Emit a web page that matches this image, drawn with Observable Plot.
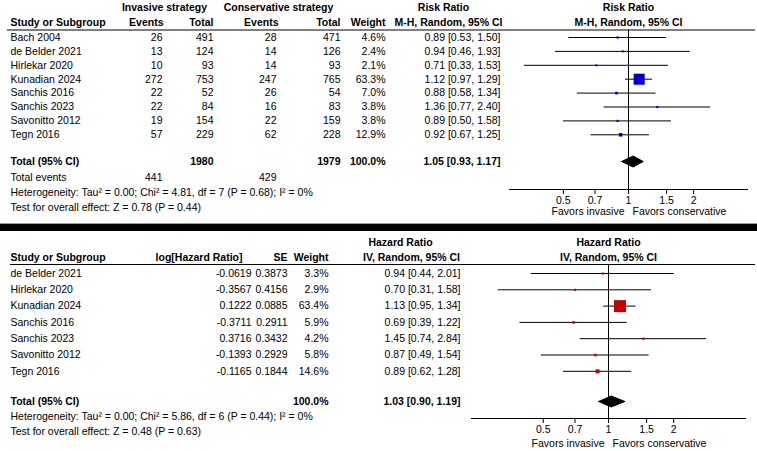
<!DOCTYPE html>
<html>
<head>
<meta charset="utf-8">
<script src="https://cdn.jsdelivr.net/npm/d3@7"></script>
<script src="https://cdn.jsdelivr.net/npm/@observablehq/plot@0.6"></script>
<style>
  html, body { margin: 0; padding: 0; background: #fff; }
  #chart { width: 757px; }
  #chart svg { display: block; overflow: visible; }
  .sep { height: 7px; background: #000; border-top: 1px solid #9a9a9a; }
</style>
</head>
<body>
<div id="chart"></div>
<script>
// ---------- Panel 1: Risk Ratio ----------
const rrStudies = ["Bach 2004", "de Belder 2021", "Hirlekar 2020", "Kunadian 2024", "Sanchis 2016", "Sanchis 2023", "Savonitto 2012", "Tegn 2016"];
const invEvents = [26, 13, 10, 272, 22, 22, 19, 57];
const invTotal  = [491, 124, 93, 753, 52, 84, 154, 229];
const conEvents = [28, 14, 14, 247, 26, 16, 22, 62];
const conTotal  = [471, 126, 93, 765, 54, 83, 159, 228];
const rrWeight  = [4.6, 2.4, 2.1, 63.3, 7.0, 3.8, 3.8, 12.9];
const rrEst     = [0.89, 0.94, 0.71, 1.12, 0.88, 1.36, 0.89, 0.92];
const rrLo      = [0.53, 0.46, 0.33, 0.97, 0.58, 0.77, 0.50, 0.67];
const rrHi      = [1.50, 1.93, 1.53, 1.29, 1.34, 2.40, 1.58, 1.25];
const rrPooled  = [1.05, 0.93, 1.17];
const rrTotals  = [1980, 1979];
const rrTotalEvents = [441, 429];
const rrHeaderTop  = ["Invasive strategy", "Conservative strategy", "Risk Ratio"];
const rrHeaderCols = ["Study or Subgroup", "Events", "Total", "Events", "Total", "Weight", "M-H, Random, 95% CI"];
const rrHet  = "Heterogeneity: Tau² = 0.00; Chi² = 4.81, df = 7 (P = 0.68); I² = 0%";
const rrTest = "Test for overall effect: Z = 0.78 (P = 0.44)";

// ---------- Panel 2: Hazard Ratio ----------
const hrStudies = ["de Belder 2021", "Hirlekar 2020", "Kunadian 2024", "Sanchis 2016", "Sanchis 2023", "Savonitto 2012", "Tegn 2016"];
const logHR    = [-0.0619, -0.3567, 0.1222, -0.3711, 0.3716, -0.1393, -0.1165];
const hrSE     = [0.3873, 0.4156, 0.0885, 0.2911, 0.3432, 0.2929, 0.1844];
const hrWeight = [3.3, 2.9, 63.4, 5.9, 4.2, 5.8, 14.6];
const hrEst    = [0.94, 0.70, 1.13, 0.69, 1.45, 0.87, 0.89];
const hrLo     = [0.44, 0.31, 0.95, 0.39, 0.74, 0.49, 0.62];
const hrHi     = [2.01, 1.58, 1.34, 1.22, 2.84, 1.54, 1.28];
const hrPooled = [1.03, 0.90, 1.19];
const hrHeaderTop  = ["Hazard Ratio"];
const hrHeaderCols = ["Study or Subgroup", "log[Hazard Ratio]", "SE", "Weight", "IV, Random, 95% CI"];
const hrHet  = "Heterogeneity: Tau² = 0.00; Chi² = 5.86, df = 6 (P = 0.44); I² = 0%";
const hrTest = "Test for overall effect: Z = 0.48 (P = 0.63)";

// ---------- shared ----------
const axisTicks  = [0.5, 0.7, 1, 1.5, 2];
const axisLabels = ["Favors invasive", "Favors conservative"];

const FONT = "'Liberation Sans', Arial, Helvetica, sans-serif";
const W = 757;
const pct = v => v.toFixed(1) + "%";
const ciText = (e, l, h) => `${e.toFixed(2)} [${l.toFixed(2)}, ${h.toFixed(2)}]`;

function panel(cfg) {
  const step = cfg.rowH;
  // layout given in pixels from panel top, converted to row units for the y scale
  const L = Object.fromEntries(Object.entries(cfg.layoutPx).map(([k, v]) => [k, v / step]));
  const n = cfg.est.length;
  const idx = d3.range(n);
  const sRow = i => L.first + i;
  const marks = [];
  const column = (cells, px, anchor, extra = {}) =>
    Plot.text(cells, {text: "t", y: "r", frameAnchor: "left", dx: px - cfg.left, textAnchor: anchor, ...extra});
  const bold = {fontWeight: "bold"};

  // headers
  for (const h of cfg.headers) marks.push(column([{t: h.t, r: L[h.row]}], h.px, h.anchor, bold));
  marks.push(Plot.text(cfg.forestTitle, {
    x: () => 1, y: (d, k) => (k === 0 ? L.h1 : L.h2), text: d => d, fontWeight: "bold", textAnchor: "middle"
  }));
  marks.push(Plot.ruleY([L.rule], {stroke: "#000", strokeWidth: 1, insetLeft: -(cfg.left - cfg.ruleStart), insetRight: -(W - cfg.right - 2)}));

  // table body
  for (const c of cfg.columns) marks.push(column(idx.map(i => ({t: c.values[i], r: sRow(i)})), c.px, c.anchor));
  for (const c of cfg.totals) marks.push(column([{t: c.t, r: L[c.row]}], c.px, c.anchor, c.bold ? bold : {}));

  // forest
  marks.push(Plot.ruleX([1], {y1: L.rule, y2: L.axis, stroke: "#000", strokeWidth: 1}));
  marks.push(Plot.ruleY(idx, {y: sRow, x1: i => cfg.lo[i], x2: i => cfg.hi[i], stroke: "#000", strokeWidth: 1}));
  marks.push(Plot.dot(idx, {x: i => cfg.est[i], y: sRow, r: i => cfg.weight[i], symbol: "square", fill: cfg.color, stroke: "none"}));
  const [pe, pl, ph] = cfg.pooled;
  const dh = cfg.diamondHalfPx / step;
  const diamond = [
    {x: pl, y: L.total}, {x: pe, y: L.total - dh}, {x: ph, y: L.total}, {x: pe, y: L.total + dh}, {x: pl, y: L.total}
  ];
  marks.push(Plot.line(diamond, {x: "x", y: "y", fill: "#000", stroke: "#000", strokeWidth: 1, curve: "linear"}));

  // axis line, ticks, tick labels, direction labels
  marks.push(Plot.frame({anchor: "bottom", stroke: "#000", strokeWidth: 1}));
  marks.push(Plot.ruleX(axisTicks, {x: d => d, y1: L.axis, y2: L.axis + 5 / step, stroke: "#000", strokeWidth: 1}));
  marks.push(Plot.text(axisTicks, {x: d => d, y: L.ticks, text: d => String(d), fontSize: cfg.tickFont}));
  marks.push(Plot.text([axisLabels[0]], {x: () => 1, y: () => L.favors, text: d => d, textAnchor: "end", dx: -4, fontSize: cfg.tickFont}));
  marks.push(Plot.text([axisLabels[1]], {x: () => 1, y: () => L.favors, text: d => d, textAnchor: "start", dx: 4, fontSize: cfg.tickFont}));

  return Plot.plot({
    width: W,
    height: cfg.H,
    marginLeft: cfg.left,
    marginRight: W - cfg.right,
    marginTop: 0,
    marginBottom: cfg.H - cfg.layoutPx.axis,
    x: {type: "log", domain: cfg.domain, axis: null},
    y: {domain: [0, cfg.H / step], range: [0, cfg.H], axis: null},
    r: {type: "linear", domain: [0, 64], range: cfg.rRange},
    style: {fontFamily: FONT, fontSize: cfg.font + "px", color: "#000", background: "#fff", overflow: "visible"},
    marks
  });
}

const p1 = panel({
  H: 223, rowH: 13.9, left: 509, right: 747, domain: [1 / 3.55, 3.55], color: "#0000c8",
  font: 10.5, tickFont: 10.5, rRange: [0.9, 6.3], diamondHalfPx: 5.5, ruleStart: 7,
  layoutPx: {h1: 7, h2: 22, rule: 29.5, first: 37, total: 161, events: 177, het: 192, test: 207, axis: 189, ticks: 200, favors: 211},
  est: rrEst, lo: rrLo, hi: rrHi, weight: rrWeight, pooled: rrPooled,
  forestTitle: [rrHeaderTop[2], rrHeaderCols[6]],
  headers: [
    {t: rrHeaderTop[0], row: "h1", px: 164, anchor: "middle"},
    {t: rrHeaderTop[1], row: "h1", px: 278, anchor: "middle"},
    {t: rrHeaderTop[2], row: "h1", px: 443, anchor: "middle"},
    {t: rrHeaderCols[0], row: "h2", px: 10, anchor: "start"},
    {t: rrHeaderCols[1], row: "h2", px: 163, anchor: "end"},
    {t: rrHeaderCols[2], row: "h2", px: 213, anchor: "end"},
    {t: rrHeaderCols[3], row: "h2", px: 278, anchor: "end"},
    {t: rrHeaderCols[4], row: "h2", px: 340, anchor: "end"},
    {t: rrHeaderCols[5], row: "h2", px: 385, anchor: "end"},
    {t: rrHeaderCols[6], row: "h2", px: 448, anchor: "middle"}
  ],
  columns: [
    {values: rrStudies, px: 10, anchor: "start"},
    {values: invEvents.map(String), px: 162, anchor: "end"},
    {values: invTotal.map(String), px: 213, anchor: "end"},
    {values: conEvents.map(String), px: 276, anchor: "end"},
    {values: conTotal.map(String), px: 340, anchor: "end"},
    {values: rrWeight.map(pct), px: 385, anchor: "end"},
    {values: rrEst.map((e, i) => ciText(e, rrLo[i], rrHi[i])), px: 500, anchor: "end"}
  ],
  totals: [
    {t: "Total (95% CI)", row: "total", px: 10, anchor: "start", bold: true},
    {t: String(rrTotals[0]), row: "total", px: 213, anchor: "end", bold: true},
    {t: String(rrTotals[1]), row: "total", px: 340, anchor: "end", bold: true},
    {t: "100.0%", row: "total", px: 385, anchor: "end", bold: true},
    {t: ciText(...rrPooled), row: "total", px: 500, anchor: "end", bold: true},
    {t: "Total events", row: "events", px: 10, anchor: "start"},
    {t: String(rrTotalEvents[0]), row: "events", px: 162, anchor: "end"},
    {t: String(rrTotalEvents[1]), row: "events", px: 276, anchor: "end"},
    {t: rrHet, row: "het", px: 10, anchor: "start"},
    {t: rrTest, row: "test", px: 10, anchor: "start"}
  ]
});

const p2 = panel({
  H: 220, rowH: 16.3, left: 471, right: 745, domain: [1 / 4.29, 4.29], color: "#c80000",
  font: 10.5, tickFont: 10.5, rRange: [0.9, 6.8], diamondHalfPx: 5.5, ruleStart: 10,
  layoutPx: {h1: 11, h2: 26, rule: 33, first: 42, total: 170, het: 185, test: 200, axis: 187, ticks: 198, favors: 212},
  est: hrEst, lo: hrLo, hi: hrHi, weight: hrWeight, pooled: hrPooled,
  forestTitle: [hrHeaderTop[0], hrHeaderCols[4]],
  headers: [
    {t: hrHeaderTop[0], row: "h1", px: 400, anchor: "middle"},
    {t: hrHeaderCols[0], row: "h2", px: 10, anchor: "start"},
    {t: hrHeaderCols[1], row: "h2", px: 242, anchor: "end"},
    {t: hrHeaderCols[2], row: "h2", px: 287, anchor: "end"},
    {t: hrHeaderCols[3], row: "h2", px: 328, anchor: "end"},
    {t: hrHeaderCols[4], row: "h2", px: 411, anchor: "middle"}
  ],
  columns: [
    {values: hrStudies, px: 10, anchor: "start"},
    {values: logHR.map(v => v.toFixed(4)), px: 251, anchor: "end"},
    {values: hrSE.map(v => v.toFixed(4)), px: 287, anchor: "end"},
    {values: hrWeight.map(pct), px: 328, anchor: "end"},
    {values: hrEst.map((e, i) => ciText(e, hrLo[i], hrHi[i])), px: 460, anchor: "end"}
  ],
  totals: [
    {t: "Total (95% CI)", row: "total", px: 10, anchor: "start", bold: true},
    {t: "100.0%", row: "total", px: 328, anchor: "end", bold: true},
    {t: ciText(...hrPooled), row: "total", px: 460, anchor: "end", bold: true},
    {t: hrHet, row: "het", px: 10, anchor: "start"},
    {t: hrTest, row: "test", px: 10, anchor: "start"}
  ]
});

const root = document.getElementById("chart");
root.appendChild(p1);
const sep = document.createElement("div");
sep.className = "sep";
root.appendChild(sep);
root.appendChild(p2);
</script>
</body>
</html>
